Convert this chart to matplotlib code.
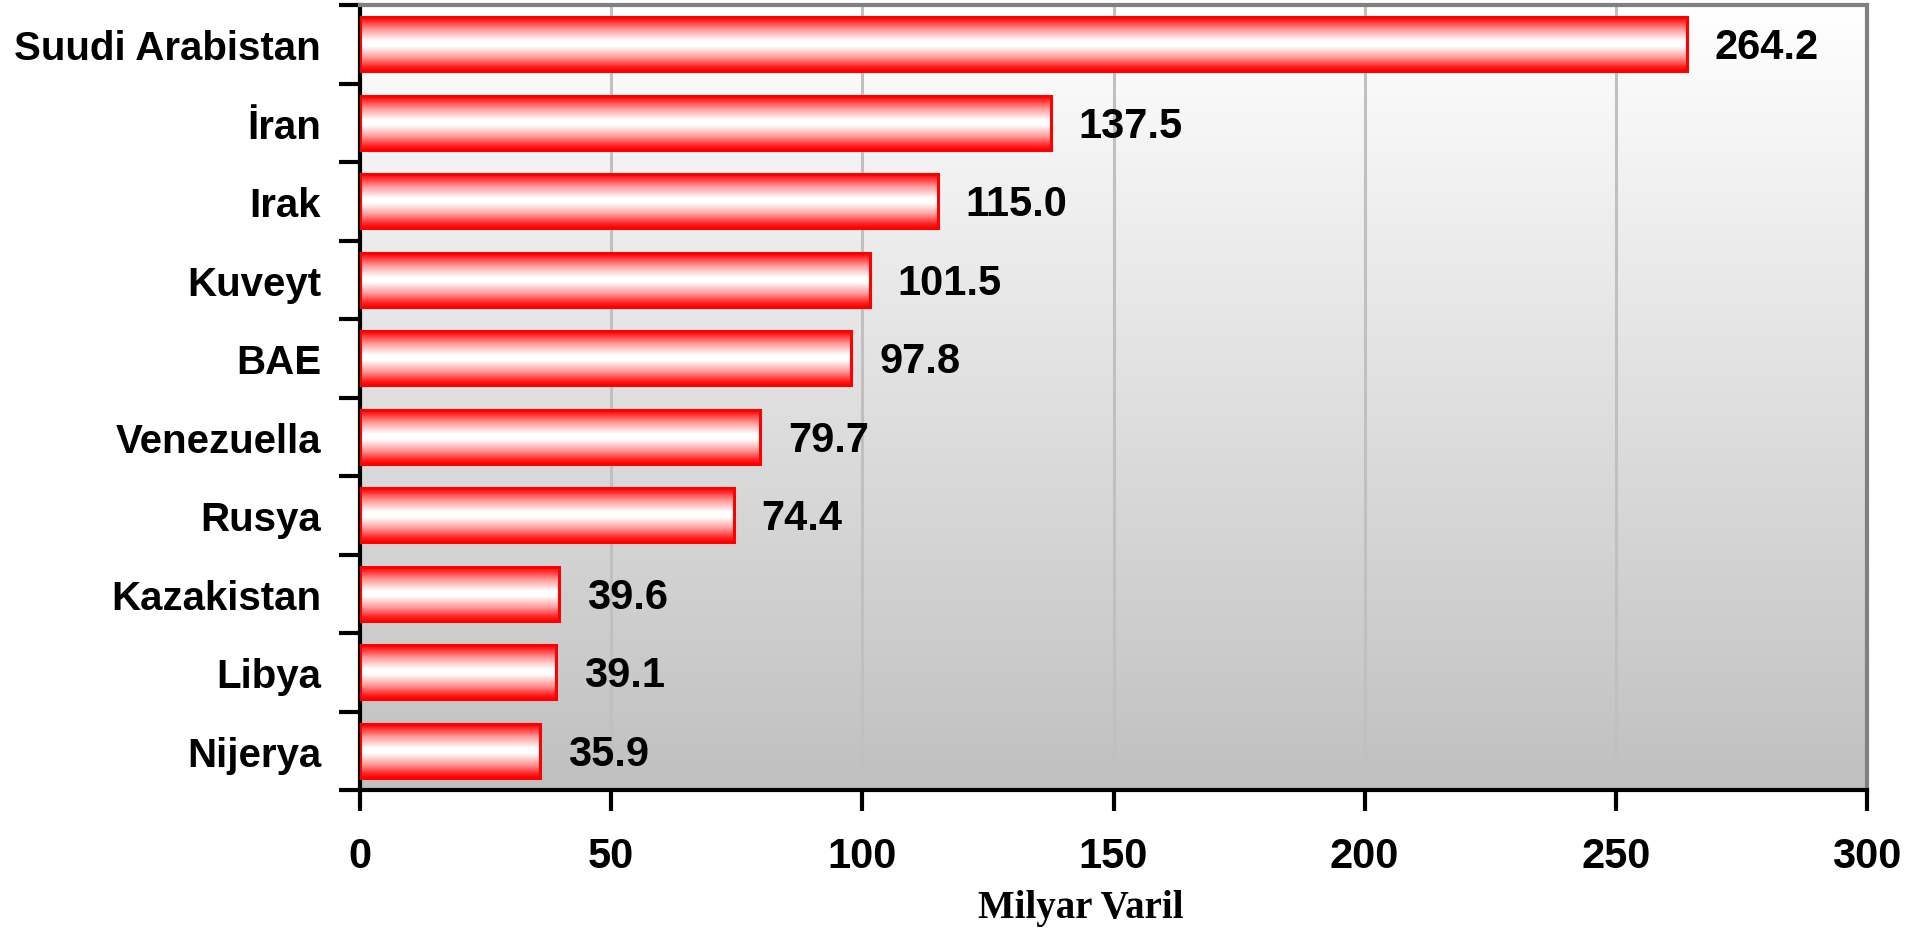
import numpy as np
import matplotlib
matplotlib.use("Agg")
import matplotlib.pyplot as plt
from matplotlib.colors import LinearSegmentedColormap

# --- data ---
countries = ["Suudi Arabistan", "İran", "Irak", "Kuveyt", "BAE",
             "Venezuella", "Rusya", "Kazakistan", "Libya", "Nijerya"]
reserves = [264.2, 137.5, 115.0, 101.5, 97.8, 79.7, 74.4, 39.6, 39.1, 35.9]
x_ticks = [0, 50, 100, 150, 200, 250, 300]
x_label = "Milyar Varil"

plt.rcParams['font.family'] = ['Liberation Sans', 'DejaVu Sans']

fig = plt.figure(figsize=(19.26, 9.29), dpi=100)
ax = fig.add_axes([360 / 1926, 1 - 791 / 929, 1507 / 1926, 785 / 929])

# background gradient: white at top, grey at bottom
bg_cmap = LinearSegmentedColormap.from_list("bg", ["#ffffff", "#c0c0c0"])
ax.imshow(np.linspace(0, 1, 256).reshape(-1, 1), cmap=bg_cmap, aspect='auto',
          extent=(0, 1, 0, 1), transform=ax.transAxes, zorder=0)

# bars with a red-white-red gradient
bar_cmap = LinearSegmentedColormap.from_list(
    "bar", [(0, "#ff0000"), (0.07, "#ff2020"), (0.25, "#ff9c9c"),
            (0.45, "#ffffff"), (0.55, "#ffffff"), (0.75, "#ff9c9c"),
            (0.93, "#ff2020"), (1, "#ff0000")])
grad = np.linspace(0, 1, 128).reshape(-1, 1)
h = 0.69
ypos = np.arange(len(countries))
ax.barh(ypos, reserves, height=h, facecolor='none', edgecolor='#ff0000',
        linewidth=2.2, zorder=4)
for y, v in zip(ypos, reserves):
    ax.imshow(grad, cmap=bar_cmap, aspect='auto',
              extent=(0, v, y + h / 2, y - h / 2), zorder=3)

# value labels
for y, v in zip(ypos, reserves):
    ax.annotate(f"{v:.1f}", xy=(v, y), xytext=(20, -2), textcoords='offset points',
                ha='left', va='center', fontsize=30, fontweight='bold', zorder=5)

ax.set_xlim(0, 300)
ax.set_ylim(len(countries) - 0.5, -0.5)

# grid
ax.set_xticks(x_ticks)
ax.grid(axis='x', color='#c0c0c0', linewidth=2.2, zorder=1)
ax.set_axisbelow(True)

# y ticks at category boundaries, labels in between
ax.set_yticks(np.arange(-0.5, len(countries)))
ax.set_yticklabels([])
ax.set_yticks(ypos, minor=True)
ax.set_yticklabels(countries, minor=True, fontsize=29, fontweight='bold')
ax.tick_params(axis='y', which='major', length=15, width=3, direction='out')
ax.tick_params(axis='y', which='minor', length=0, pad=28)
ax.tick_params(axis='x', length=15, width=3, direction='out', pad=18)
for lab in ax.get_xticklabels():
    lab.set_fontsize(30)
    lab.set_fontweight('bold')

for side in ['left', 'bottom']:
    ax.spines[side].set_color('black')
    ax.spines[side].set_linewidth(3)
for side in ['top', 'right']:
    ax.spines[side].set_color('#808080')
    ax.spines[side].set_linewidth(3)

fig.text(1081 / 1926, 1 - 918 / 929, x_label, ha='center', va='baseline',
         fontsize=28, fontweight='bold', family=['Liberation Serif', 'DejaVu Serif'])

fig.savefig("out.png", dpi=100)
